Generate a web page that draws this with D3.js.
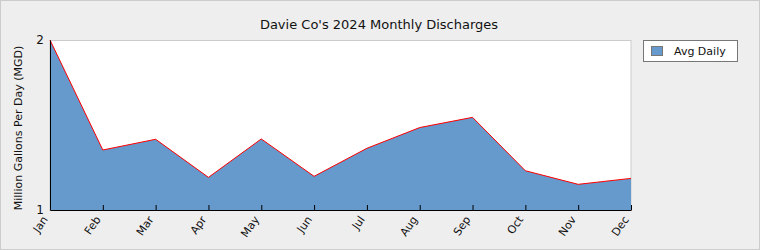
<!DOCTYPE html>
<html>
<head>
<meta charset="utf-8">
<script src="https://cdn.jsdelivr.net/npm/d3@7"></script>
<style>
  body { margin: 0; background: #eeeeee; }
  text { font-family: "DejaVu Sans", sans-serif; fill: #111; }
</style>
</head>
<body>
<div id="chart"></div>
<script>
// data
var months = ["Jan", "Feb", "Mar", "Apr", "May", "Jun", "Jul", "Aug", "Sep", "Oct", "Nov", "Dec"];
var avgDaily = [2.0, 1.353, 1.416, 1.192, 1.418, 1.198, 1.363, 1.485, 1.545, 1.231, 1.151, 1.186];
var yTicks = [1, 2];

var title = "Davie Co's 2024 Monthly Discharges";
var yTitle = "Million Gallons Per Day (MGD)";
var seriesName = "Avg Daily";

// dimensions
var W = 760, H = 250;
var margin = { top: 40, right: 129, bottom: 40, left: 50 },
    width = W - margin.left - margin.right,
    height = H - margin.top - margin.bottom;

var svg = d3.select("#chart").append("svg")
    .attr("width", W)
    .attr("height", H);

// background + frame
svg.append("rect")
    .attr("x", 0.5).attr("y", 0.5)
    .attr("width", W - 1).attr("height", H - 1)
    .attr("fill", "#eeeeee")
    .attr("stroke", "#cccccc");

svg.append("text")
    .attr("x", 379).attr("y", 29)
    .attr("text-anchor", "middle")
    .style("font-size", "13px")
    .text(title);

var g = svg.append("g")
    .attr("transform", "translate(" + margin.left + "," + margin.top + ")");

// plot background
g.append("rect")
    .attr("x", 0).attr("y", 0.5)
    .attr("width", width).attr("height", height)
    .attr("fill", "#ffffff")
    .attr("stroke", "#cccccc");

var x = d3.scalePoint().domain(months).range([0, width]);
var y = d3.scaleLinear().domain([1, 2]).range([height, 0]);

var area = d3.area()
    .x(function (d, i) { return x(months[i]); })
    .y0(height)
    .y1(function (d) { return y(d); });

var line = d3.line()
    .x(function (d, i) { return x(months[i]); })
    .y(function (d) { return y(d); });

g.append("path")
    .datum(avgDaily)
    .attr("fill", "#6699cc")
    .attr("d", area);

g.append("path")
    .datum(avgDaily)
    .attr("fill", "none")
    .attr("stroke", "#ff0000")
    .attr("stroke-width", 1)
    .attr("d", line);

// x axis, ticks pointing inwards
var xAxis = g.append("g")
    .attr("transform", "translate(0," + height + ")")
    .call(d3.axisBottom(x).tickSizeInner(-5).tickSizeOuter(0).tickPadding(8));
xAxis.select(".domain").attr("stroke", "#000");
xAxis.selectAll("line").attr("stroke", "#000");
xAxis.selectAll("text")
    .style("font-size", "11px")
    .attr("text-anchor", "end")
    .attr("dy", "0.35em")
    .attr("transform", "translate(-3,4) rotate(-55)")
    .attr("y", 0).attr("x", -4);

// y axis
var yAxis = g.append("g")
    .call(d3.axisLeft(y).tickValues(yTicks).tickFormat(d3.format("d")).tickSize(0).tickPadding(6));
yAxis.select(".domain").attr("stroke", "#000");
yAxis.selectAll("text").style("font-size", "12px");

svg.append("text")
    .attr("transform", "translate(22,128) rotate(-90)")
    .attr("text-anchor", "middle")
    .style("font-size", "11px")
    .text(yTitle);

// legend
var lg = svg.append("g").attr("transform", "translate(643,40)");
lg.append("rect")
    .attr("x", 0.5).attr("y", 0.5)
    .attr("width", 94).attr("height", 21)
    .attr("fill", "#ffffff")
    .attr("stroke", "#777777");
lg.append("rect")
    .attr("x", 8.5).attr("y", 6.5)
    .attr("width", 11).attr("height", 9)
    .attr("fill", "#6699cc")
    .attr("stroke", "#777777");
lg.append("text")
    .attr("x", 31).attr("y", 15)
    .style("font-size", "11px")
    .text(seriesName);
</script>
</body>
</html>
